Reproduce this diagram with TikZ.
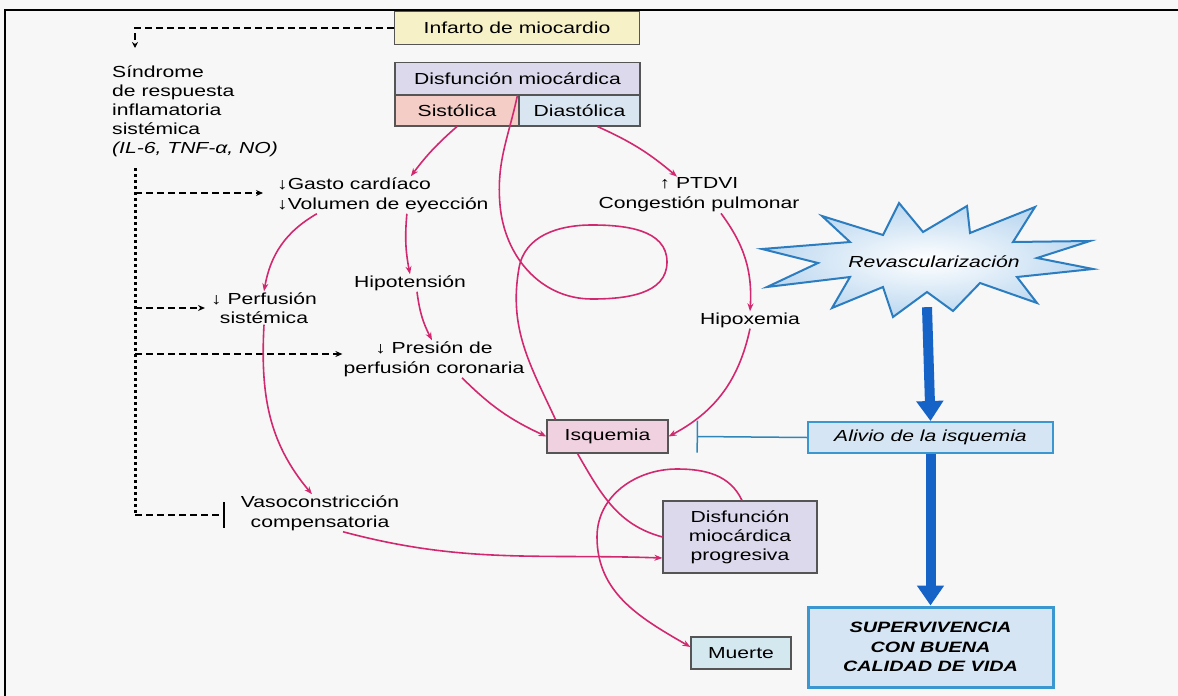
\documentclass[tikz,border=0pt]{standalone}
\usepackage{fontspec}
\setmainfont{Liberation Sans}[FakeStretch=1.32]
\usetikzlibrary{arrows.meta}

\definecolor{paper}{HTML}{F7F7F7}
\definecolor{vicious}{HTML}{D2286F}
\definecolor{boxline}{HTML}{555555}
\definecolor{infill}{HTML}{F6F1C6}
\definecolor{disfill}{HTML}{DCD9EC}
\definecolor{sisfill}{HTML}{F3CDC6}
\definecolor{diafill}{HTML}{D9E6F1}
\definecolor{isqfill}{HTML}{EFD1DF}
\definecolor{muefill}{HTML}{D4E8F0}
\definecolor{revfill}{HTML}{D6E5F3}
\definecolor{staredge}{HTML}{BCD8F0}
\definecolor{revline}{HTML}{3A97D0}
\definecolor{starline}{HTML}{2C7DC0}
\definecolor{revarrow}{HTML}{1663C7}
\definecolor{inhibline}{HTML}{2F86B8}

\newcommand\lblsize{\fontsize{16}{20}\selectfont}

\tikzset{
  lbl/.style={font=\lblsize, align=center, inner sep=1pt},
  box/.style={lbl, draw=boxline, line width=1.1pt, inner sep=0pt},
  bluebox/.style={box, draw=revline, fill=revfill, line width=2pt},
  cycleline/.style={draw=vicious, line width=1.6pt},
  push/.style={cycleline, -{Stealth[length=8pt,width=6pt]}},
  sirsline/.style={line width=2pt, dash pattern=on 7pt off 4pt},
  sirsdot/.style={line width=3pt, dash pattern=on 2.5pt off 3.5pt},
  relief/.style={revarrow, line width=10pt, -{Triangle[length=20pt,width=26pt]}},
}

\begin{document}
\begin{tikzpicture}[x=1pt,y=1pt]
        \useasboundingbox (0,0) rectangle (1178,-696);
        \fill[paper] (0,0) rectangle (1178,-696);
        \draw[line width=2.5pt] (1178,-10) -- (5,-10) -- (5,-696);

        % boxes
        \node[box, fill=infill, minimum width=245pt, minimum height=33pt] (infarto) at (517,-28) {Infarto de miocardio};
        \node[box, fill=disfill, minimum width=245pt, minimum height=32pt] (disf) at (517.5,-78.5) {Disfunción miocárdica};
        \node[box, fill=sisfill, minimum width=124pt, minimum height=31pt] (sist) at (457,-110.5) {Sistólica};
        \node[box, fill=diafill, minimum width=121pt, minimum height=31pt] (diast) at (579.5,-110.5) {Diastólica};
        \node[box, fill=isqfill, minimum width=121pt, minimum height=33pt] (isq) at (607.5,-436.5) {Isquemia};
        \node[box, fill=disfill, minimum width=154pt, minimum height=72pt, font=\fontsize{16}{19}\selectfont] (progr) at (740,-537) {Disfunción\\miocárdica\\progresiva};
        \node[box, fill=muefill, minimum width=100pt, minimum height=32pt] (muerte) at (741,-653) {Muerte};
        \node[bluebox, minimum width=245pt, minimum height=31pt, font=\lblsize\itshape] (alivio) at (930.5,-437.5) {Alivio de la isquemia};
        \node[bluebox, minimum width=245pt, minimum height=80pt, line width=3pt, font=\fontsize{15}{19.5}\selectfont\bfseries\itshape] (superv) at (930.5,-647) {SUPERVIVENCIA\\CON BUENA\\CALIDAD DE VIDA};

        % star of the revascularization
        \coordinate (starc) at (927,-262);
        \shadedraw[inner color=white, outer color=staredge, draw=starline, line width=2pt, line join=miter, shift={(starc)}]
              (-165,13) -- (-77,20) -- (-105,46) -- (-44,27) -- (-28,59) -- (-4,30) -- (40,56) -- (43,29)
              -- (108,55) -- (86,20) -- (163,21) -- (110,4) -- (166,-7) -- (90,-15) -- (110,-41) -- (53,-21)
              -- (26,-49) -- (0,-30) -- (-34,-55) -- (-44,-25) -- (-95,-46) -- (-77,-15) -- (-160,-25) -- (-109,-1) -- cycle;
        \node[lbl, font=\lblsize\itshape] (star) at (934,-262) {Revascularización};

        % texts
        \node[lbl, align=left, anchor=north west, font=\fontsize{16}{18.8}\selectfont] (sirs) at (111,-65) {Síndrome\\de respuesta\\inflamatoria\\sistémica\\\textit{(IL-6, TNF-α, NO)}};
        \node[lbl, align=left, anchor=west] (gasto) at (276,-195) {↓Gasto cardíaco\\↓Volumen de eyección};
        \node[lbl] (ptdvi) at (699,-195) {↑ PTDVI\\Congestión pulmonar};
        \node[lbl] (hipot) at (410,-283) {Hipotensión};
        \node[lbl, font=\fontsize{16}{19}\selectfont] (perf) at (264,-308) {↓ Perfusión\\sistémica};
        \node[lbl] (presion) at (434,-359) {↓ Presión de\\perfusión coronaria};
        \node[lbl] (hipox) at (750,-320) {Hipoxemia};
        \node[lbl] (vaso) at (320,-513) {Vasoconstricción\\compensatoria};

        % dashed lines of the inflammatory response
        \coordinate (sirsin) at (135,-48);
        \coordinate (dtop) at (135,-168);
        \coordinate (dbot) at (135,-515);
        \coordinate (b1) at (135,-193);
        \coordinate (b2) at (135,-308);
        \coordinate (b3) at (135,-354);
        \draw[sirsline, -{Stealth[length=6pt,width=6pt]}] (infarto.west) -| (sirsin);
        \draw[sirsdot] (dtop) -- (dbot);
        \draw[sirsline, -{Stealth[length=7pt,width=6pt]}, shorten >=13pt] (b1) -- (b1 -| gasto.west);
        \draw[sirsline, -{Stealth[length=7pt,width=6pt]}, shorten >=5pt] (b2) -- (b2 -| perf.west);
        \draw[sirsline, -{Stealth[length=7pt,width=6pt]}] (b3) -- (b3 -| presion.west);
        \draw[sirsline, -{Bar[width=26pt]}, shorten >=15pt] (dbot) -- (dbot -| vaso.west);

        % magenta arrows
        \draw[push] (sist.south) to[bend right=6] ([xshift=28pt]gasto.north);
        \draw[push] ([xshift=18pt]diast.south) to[bend left=8] ([xshift=-22pt]ptdvi.north);
        \draw[push] ([xshift=-66pt]gasto.south) to[out=210, in=80] (perf.north);
        \draw[push] ([xshift=24pt]gasto.south) to[bend right=8] (hipot.north);
        \draw[push] ([xshift=7pt]hipot.south) to[bend right=10] ([xshift=-2pt]presion.north);
        \draw[push] ([xshift=28pt]presion.south) to[bend right=10] (isq.west);
        \draw[push] ([xshift=22pt]ptdvi.south) to[bend left=20] (hipox.north);
        \draw[push] (hipox.south) to[bend left=25] (isq.east);
        \draw[push] (perf.south) to[out=-93, in=130] ([xshift=-8pt]vaso.north);
        \draw[push] ([xshift=23pt]vaso.south) to[out=-15, in=178] ([yshift=-21pt]progr.west);

        % vicious loops
        \draw[cycleline] (disf.south) to[out=258, in=95] (500,-205) to[out=-85, in=180] (592,-299)
              to[out=0, in=-90] (667,-262) to[out=90, in=0] (592,-225) to[out=180, in=80] (519,-268)
              to[out=-100, in=115] ([xshift=-52pt]isq.north);
        \draw[cycleline] ([xshift=-30pt]isq.south) to[out=-60, in=165] (progr.west);
        \draw[push] ([xshift=2pt]progr.north) to[out=115, in=0] (677,-469) to[out=180, in=90] (597,-537)
              to[out=-90, in=150] ([yshift=6pt]muerte.west);

        % revascularization
        \draw[inhibline, line width=1.5pt, -{Bar[width=32pt]}] (alivio.west) -- ([xshift=28pt]isq.east);
        \draw[relief] ([xshift=-7pt,yshift=-38pt]star.south) -- (alivio.north);
        \draw[relief] (alivio.south) -- (superv.north);
\end{tikzpicture}
\end{document}
